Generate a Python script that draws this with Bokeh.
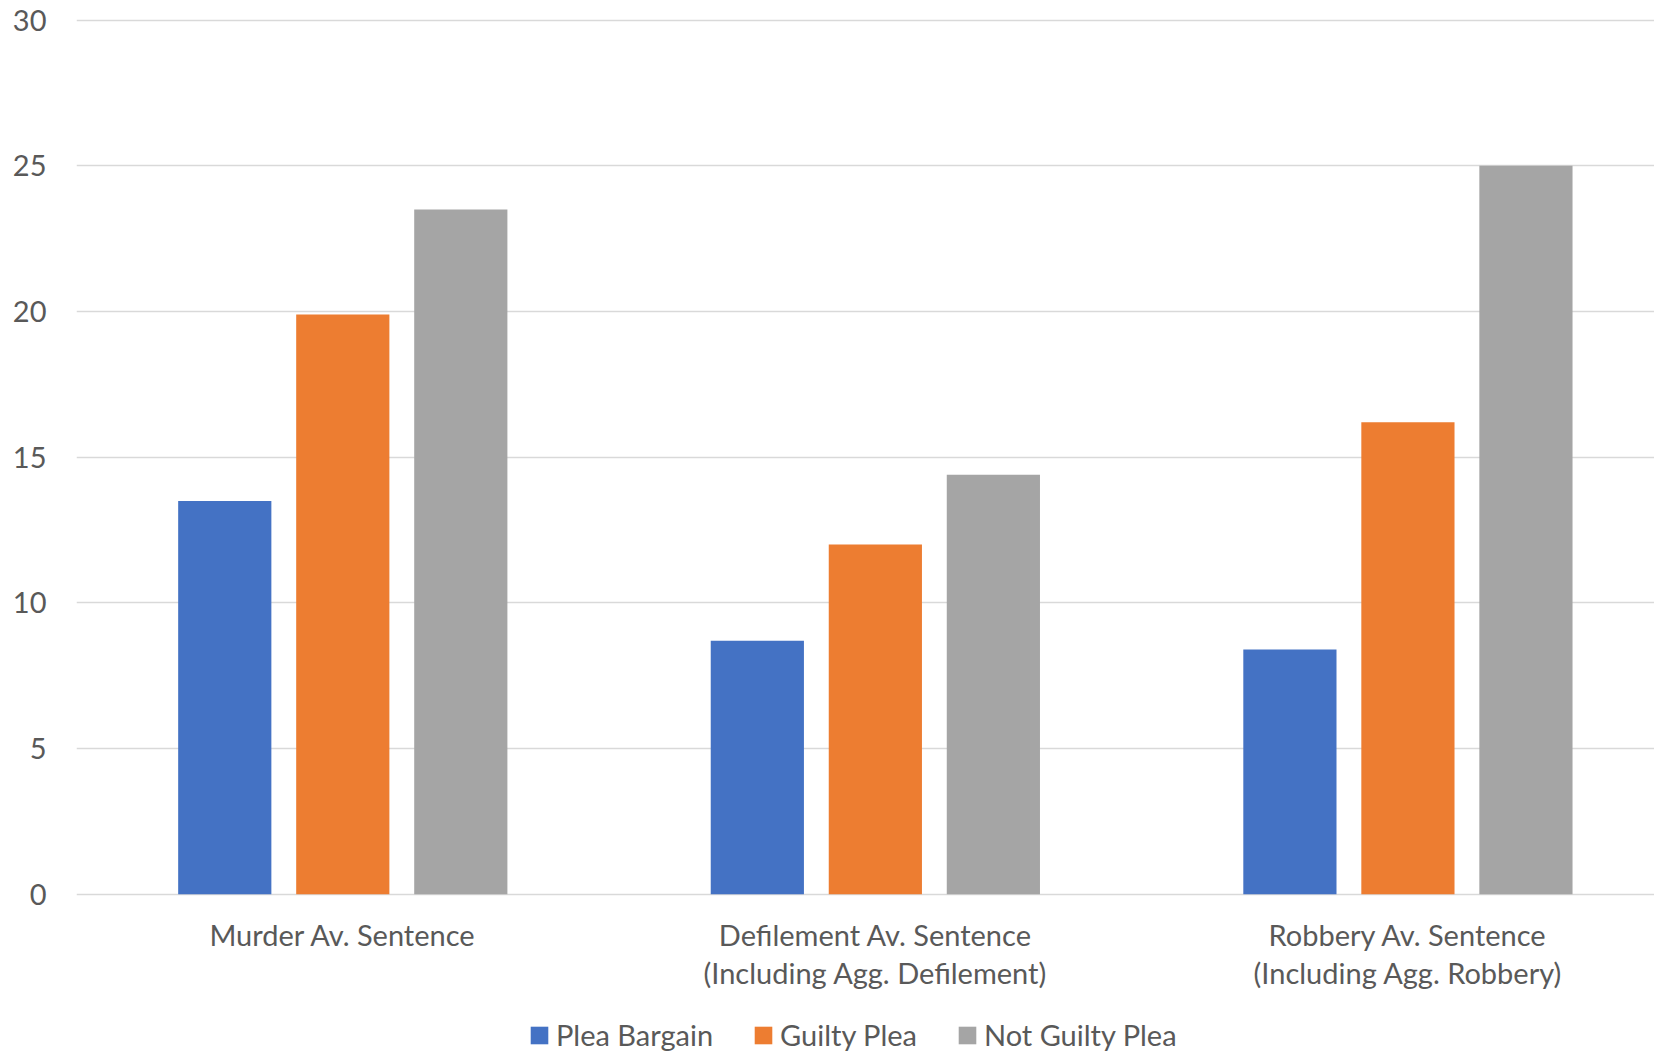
from bokeh.plotting import figure
from bokeh.models import Range1d, FixedTicker, Legend, LegendItem, ColumnDataSource
from bokeh.core.properties import value
from bokeh.embed import file_html
from bokeh.resources import INLINE

# Average sentence (years) by offence and plea type
categories = [
    "Murder Av. Sentence",
    "Defilement Av. Sentence\n(Including Agg. Defilement)",
    "Robbery Av. Sentence\n(Including Agg. Robbery)",
]
series_names = ["Plea Bargain", "Guilty Plea", "Not Guilty Plea"]
plea_bargain = [13.5, 8.7, 8.4]
guilty_plea = [19.9, 12.0, 16.2]
not_guilty_plea = [23.5, 14.4, 25.0]
y_ticks = [0, 5, 10, 15, 20, 25, 30]

colors = ["#4472C4", "#ED7D31", "#A5A5A5"]
FONT = "Lato"
TEXT = "#595959"
GRID = "#D9D9D9"
FS = "29px"

# bar layout inside one category slot (slot width = 1 unit)
SLOT_STEP = 0.2216
BAR_W = 0.175

# the value range leaves room under zero for the category names and legend
p = figure(
    width=1654, height=1052,
    output_backend="svg", toolbar_location=None,
    x_range=Range1d(0, 2.963), y_range=Range1d(-5.434, 30.676),
    x_axis_location=None,
    min_border_left=76, min_border_right=0,
    min_border_top=0, min_border_bottom=0,
)
p.outline_line_color = None
p.background_fill_color = "white"
p.border_fill_color = "white"

centers = [i + 0.5 for i in range(len(categories))]
renderers = []
for k, (name, vals) in enumerate(zip(series_names, [plea_bargain, guilty_plea, not_guilty_plea])):
    src = ColumnDataSource(dict(x=[c + (k - 1) * SLOT_STEP for c in centers], top=vals))
    r = p.vbar(x="x", top="top", width=BAR_W, bottom=0, source=src,
               fill_color=colors[k], line_color=None)
    renderers.append(r)

# grid
p.xgrid.visible = False
p.ygrid.ticker = FixedTicker(ticks=y_ticks)
p.ygrid.grid_line_color = GRID
p.ygrid.grid_line_width = 1.3
p.ygrid.level = "underlay"

# y axis
p.yaxis.ticker = FixedTicker(ticks=y_ticks)
p.yaxis.axis_line_color = None
p.yaxis.major_tick_line_color = None
p.yaxis.minor_tick_line_color = None
p.yaxis.major_tick_out = 0
p.yaxis.major_tick_in = 0
p.yaxis.major_label_standoff = 30
p.yaxis.major_label_text_font = FONT
p.yaxis.major_label_text_font_size = FS
p.yaxis.major_label_text_color = TEXT

# category names under the baseline
p.text(x=centers, y=[-0.766] * len(centers), text=categories,
       text_font=value(FONT), text_font_size=FS, text_color=TEXT,
       text_align="center", text_baseline="top", text_line_height=1.09)

# legend at the bottom
legend = Legend(
    items=[LegendItem(label=n, renderers=[r]) for n, r in zip(series_names, renderers)],
    orientation="horizontal",
    location=(452, 0),
    label_text_font=FONT, label_text_font_size=FS, label_text_color=TEXT,
    glyph_width=22, glyph_height=22, label_standoff=6, spacing=39,
    padding=0, margin=0,
    border_line_color=None, background_fill_alpha=0,
)
p.add_layout(legend, "center")

open("out.html", "w").write(file_html(p, INLINE))
